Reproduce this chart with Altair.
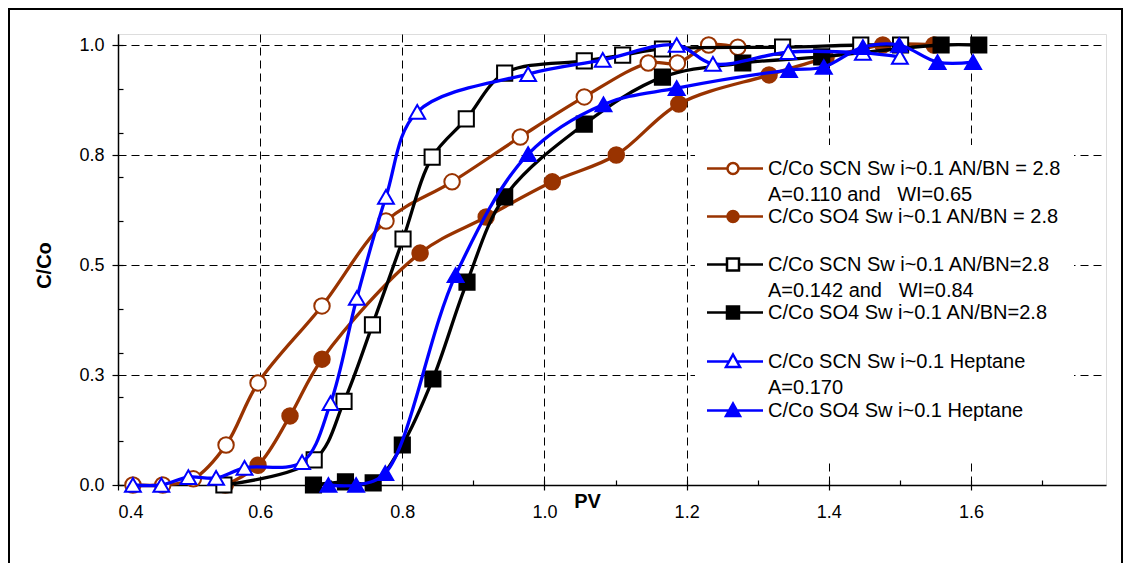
import altair as alt
import pandas as pd

# ---------------- data ----------------
# brown, open circles: C/Co SCN, AN/BN = 2.8 (A=0.110, WI=0.65)
scn_110_pv = [0.421, 0.463, 0.506, 0.552, 0.597, 0.687, 0.777, 0.870, 0.966, 1.056, 1.146, 1.187, 1.231, 1.272]
scn_110_c = [0.0, 0.0, 0.014, 0.091, 0.232, 0.407, 0.600, 0.689, 0.791, 0.882, 0.959, 0.959, 1.0, 0.995]
# brown, filled circles: C/Co SO4, AN/BN = 2.8
so4_110_pv = [0.551, 0.597, 0.642, 0.687, 0.825, 0.918, 1.011, 1.101, 1.189, 1.316, 1.396, 1.476, 1.548]
so4_110_c = [0.0, 0.045, 0.157, 0.286, 0.527, 0.609, 0.689, 0.750, 0.866, 0.932, 0.970, 1.0, 1.0]
# black, open squares: C/Co SCN, AN/BN=2.8 (A=0.142, WI=0.84)
scn_142_pv = [0.549, 0.676, 0.718, 0.758, 0.801, 0.842, 0.890, 0.944, 1.056, 1.110, 1.166, 1.335, 1.445, 1.501]
scn_142_c = [0.0, 0.057, 0.19, 0.364, 0.559, 0.745, 0.832, 0.936, 0.964, 0.977, 0.991, 0.995, 1.0, 1.0]
# black, filled squares: C/Co SO4, AN/BN=2.8
so4_142_pv = [0.675, 0.720, 0.759, 0.800, 0.843, 0.891, 0.944, 1.056, 1.166, 1.279, 1.390, 1.558, 1.611]
so4_142_c = [0.0, 0.007, 0.005, 0.091, 0.241, 0.461, 0.655, 0.820, 0.927, 0.959, 0.973, 1.0, 1.0]
# blue, open triangles: C/Co SCN, Heptane (A=0.170)
scn_hep_pv = [0.421, 0.461, 0.499, 0.538, 0.578, 0.659, 0.699, 0.736, 0.777, 0.821, 0.977, 1.082, 1.186, 1.237, 1.343, 1.448, 1.500]
scn_hep_c = [0.0, 0.0, 0.018, 0.016, 0.039, 0.052, 0.186, 0.425, 0.655, 0.848, 0.934, 0.966, 1.0, 0.957, 0.984, 0.982, 0.973]
# blue, filled triangles: C/Co SO4, Heptane
so4_hep_pv = [0.696, 0.735, 0.776, 0.875, 0.977, 1.083, 1.186, 1.344, 1.393, 1.448, 1.499, 1.553, 1.603]
so4_hep_c = [0.0, 0.0, 0.027, 0.477, 0.752, 0.865, 0.902, 0.943, 0.950, 0.995, 1.0, 0.961, 0.961]

legend_labels = [
    "C/Co SCN Sw i~0.1 AN/BN = 2.8|A=0.110 and\u00a0\u00a0 WI=0.65",
    "C/Co SO4 Sw i~0.1 AN/BN = 2.8|",
    "C/Co SCN Sw i~0.1 AN/BN=2.8|A=0.142 and\u00a0\u00a0 WI=0.84",
    "C/Co SO4 Sw i~0.1 AN/BN=2.8|",
    "C/Co SCN Sw i~0.1 Heptane|A=0.170",
    "C/Co SO4 Sw i~0.1 Heptane|",
]
x_ticks = [0.4, 0.6, 0.8, 1.0, 1.2, 1.4, 1.6]
x_minor = [0.4, 0.5, 0.6, 0.7, 0.8, 0.9, 1.0, 1.1, 1.2, 1.3, 1.4, 1.5, 1.6, 1.7]
y_ticks = [0.0, 0.25, 0.5, 0.75, 1.0]
y_minor = [0.0, 0.1, 0.2, 0.3, 0.4, 0.5, 0.6, 0.7, 0.8, 0.9, 1.0]

BROWN = "#993300"
BLACK = "#000000"
BLUE = "#0000FF"
FONT = "Liberation Sans"

series = [
    (scn_110_pv, scn_110_c, BROWN, "circle", False, 240),
    (so4_110_pv, so4_110_c, BROWN, "circle", True, 240),
    (scn_142_pv, scn_142_c, BLACK, "square", False, 230),
    (so4_142_pv, so4_142_c, BLACK, "square", True, 230),
    (scn_hep_pv, scn_hep_c, BLUE, "triangle-up", False, 250),
    (so4_hep_pv, so4_hep_c, BLUE, "triangle-up", True, 250),
]

xsc = alt.Scale(domain=[0.4, 1.79], nice=False, zero=False)
ysc = alt.Scale(domain=[0.0, 1.025], nice=False, zero=False)

layers = []

# main axes
axis_df = pd.DataFrame({"pv": scn_110_pv, "c": scn_110_c})
main_axes = alt.Chart(axis_df).mark_point(opacity=0).encode(
    x=alt.X("pv:Q", scale=xsc, axis=alt.Axis(
        orient="bottom", values=x_ticks, format=".1f", tickSize=5, tickWidth=1.2, tickColor=BLACK,
        domainColor=BLACK, domainWidth=1.5, labelFontSize=18, labelPadding=13, labelColor=BLACK,
        labelFont=FONT, grid=True, gridColor=BLACK, gridDash=[8, 5], gridWidth=1,
        title="PV", titleFont=FONT, titleFontSize=20, titleFontWeight="bold", titleColor=BLACK,
        titleX=469, titleY=6, titleAlign="center", titleBaseline="top")),
    y=alt.Y("c:Q", scale=ysc, axis=alt.Axis(
        orient="left", values=y_ticks, format=".1f", tickSize=6, tickWidth=1.2, tickColor=BLACK,
        domainColor=BLACK, domainWidth=1.5, labelFontSize=18, labelPadding=8, labelColor=BLACK,
        labelFont=FONT, grid=True, gridColor=BLACK, gridDash=[8, 5], gridWidth=1,
        title="C/Co", titleFont=FONT, titleFontSize=20, titleFontWeight="bold", titleColor=BLACK,
        titleX=-74, titleY=231, titleAlign="center", titleBaseline="middle", titleAngle=270)),
).transform_filter("false")
layers.append(main_axes)

# inner (minor) ticks
minor_axes = alt.Chart(axis_df).mark_point(opacity=0).encode(
    x=alt.X("pv:Q", scale=xsc, axis=alt.Axis(
        orient="bottom", values=x_minor, offset=-5, tickSize=5, tickWidth=1.2, tickColor=BLACK,
        domain=False, labels=False, grid=False, title=None)),
    y=alt.Y("c:Q", scale=ysc, axis=alt.Axis(
        orient="left", values=y_minor, offset=-5, tickSize=5, tickWidth=1.2, tickColor=BLACK,
        domain=False, labels=False, grid=False, title=None)),
).transform_filter("false")
layers.append(minor_axes)

for pv, c, col, shp, filled, sz in series:
    df = pd.DataFrame({"pv": pv, "c": c})
    base = alt.Chart(df).encode(
        x=alt.X("pv:Q", scale=xsc, axis=None),
        y=alt.Y("c:Q", scale=ysc, axis=None),
    )
    layers.append(base.mark_line(color=col, strokeWidth=3.3, interpolate="catmull-rom"))
    layers.append(base.mark_point(shape=shp, size=sz, filled=True, fill=(col if filled else "white"),
                                  stroke=col, strokeWidth=2, opacity=1))

# legend symbols: line + marker (unit = 10 px)
circle_p = "M-1.15,0H0.9M2.0,0H4.45M2.0,0A0.55,0.55 0 1,1 0.9,0A0.55,0.55 0 1,1 2.0,0Z"
square_p = "M-1.15,0H0.85M2.05,0H4.45M0.85,-0.6H2.05V0.6H0.85Z"
tri_p = "M-1.15,0H1.05M1.85,0H4.45M1.45,-0.7L2.15,0.55H0.75Z"
leg_paths = [circle_p, circle_p, square_p, square_p, tri_p, tri_p]
leg_stroke = [BROWN, BROWN, BLACK, BLACK, BLUE, BLUE]
leg_fill = ["white", BROWN, "white", BLACK, "white", BLUE]

leg = alt.Legend(
    orient="none", legendX=577, legendY=111, padding=12, fillColor="white", title=None,
    labelExpr="split(datum.label, '|')", labelFont=FONT, labelFontSize=20, labelColor=BLACK,
    labelLimit=1000, labelOffset=38, labelBaseline="middle", rowPadding=0,
    symbolSize=400, symbolStrokeWidth=2.5, symbolOpacity=1,
)
leg_df = pd.DataFrame({"series": legend_labels, "pv": [0.5] * 6, "c": [0.5] * 6})
legend_layer = alt.Chart(leg_df).mark_point(filled=True, opacity=1, size=400, strokeWidth=2.5).encode(
    x=alt.X("pv:Q", scale=xsc, axis=None),
    y=alt.Y("c:Q", scale=ysc, axis=None),
    stroke=alt.Stroke("series:N", scale=alt.Scale(domain=legend_labels, range=leg_stroke), legend=leg),
    fill=alt.Fill("series:N", scale=alt.Scale(domain=legend_labels, range=leg_fill), legend=leg),
    shape=alt.Shape("series:N", scale=alt.Scale(domain=legend_labels, range=leg_paths), legend=leg),
).transform_filter("false")
layers.append(legend_layer)

# outer frame of the figure
frame = alt.Chart(pd.DataFrame({"k": [0]})).mark_rect(fillOpacity=0, stroke=BLACK, strokeWidth=2).encode(
    x=alt.value(-109), x2=alt.value(1004), y=alt.value(-25), y2=alt.value(640)
)
layers.append(frame)

chart = alt.layer(*layers).properties(
    width=988, height=451,
    autosize=alt.AutoSizeParams(type="none"),
    padding={"left": 110, "top": 26, "right": 18, "bottom": 78},
).resolve_axis(x="independent", y="independent").configure_view(
    stroke="#a0a0a0", strokeWidth=1.5
).configure(
    font=FONT, style={"guide-label": {"lineHeight": 26}}
)

chart.save("out.html", embed_options={"renderer": "svg", "actions": False})
